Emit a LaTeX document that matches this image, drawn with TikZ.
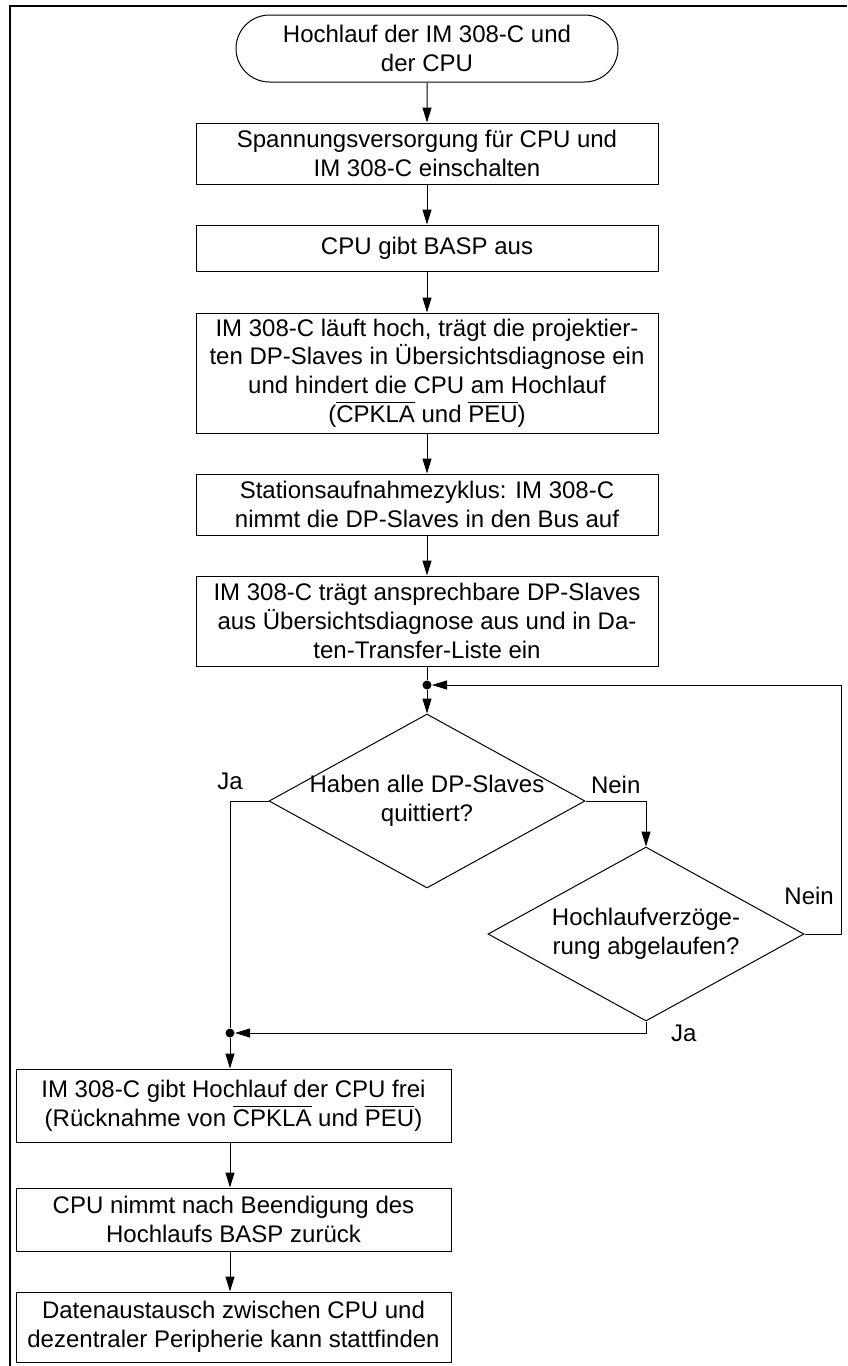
\documentclass[tikz,border=0pt]{standalone}
\usepackage{fontspec}
\setmainfont{Liberation Sans}
\usetikzlibrary{shapes,arrows.meta,positioning}

\newcommand{\lowact}[1]{$\overline{\mbox{#1}}$}

\tikzset{
  terminal/.style={draw, rounded rectangle, minimum width=195pt, minimum height=33.5pt, inner sep=2pt, align=center},
  block/.style={draw, rectangle, minimum width=231pt, inner sep=2pt, align=center},
  lowblock/.style={draw, rectangle, minimum width=217.5pt, inner sep=2pt, align=center},
  decision/.style={draw, diamond, aspect=1.8, minimum width=158pt, minimum height=87pt, inner sep=-3pt, align=center},
  junction/.style={circle, fill, inner sep=0pt, minimum size=4.5pt}
}

\begin{document}
\begin{tikzpicture}[x=1pt, y=1pt, node distance=50pt, line width=0.5pt,
    font=\fontsize{12}{14.3}\selectfont, >={Triangle[length=7.5pt,width=4.5pt]}]
    \useasboundingbox (0,0) rectangle (423.5,-683);
    \draw[line width=1pt] (5,-683) -- (5,-3) -- (423.5,-3);

    \node[terminal] (start) at (213.5,-24.25) {Hochlauf der IM 308-C und\\der CPU};
    \node[block, minimum height=30.5pt, below of=start, yshift=-2.5pt] (power) {Spannungsversorgung für CPU und\\IM 308-C einschalten};
    \node[block, minimum height=23pt, below of=power, yshift=2.75pt] (basp) {CPU gibt BASP aus};
    \node[block, minimum height=60pt, below of=basp, yshift=-12.5pt] (imup) {IM 308-C läuft hoch, trägt die projektier-\\ten DP-Slaves in Übersichtsdiagnose ein\\und hindert die CPU am Hochlauf\\(\lowact{CPKLA} und \lowact{PEU})};
    \node[block, minimum height=30.5pt, below of=imup, yshift=-15.75pt] (cycle) {Stationsaufnahmezyklus: IM 308-C\\nimmt die DP-Slaves in den Bus auf};
    \node[block, minimum height=45pt, below of=cycle, yshift=-8.25pt] (transfer) {IM 308-C trägt ansprechbare DP-Slaves\\aus Übersichtsdiagnose aus und in Da-\\ten-Transfer-Liste ein};
    \node[junction] (loop) at (213.5,-342.5) {};
    \node[decision, below of=transfer, yshift=-40pt] (ack) {Haben alle DP-Slaves\\quittiert?};
    \node[decision, right of=ack, xshift=59.5pt, yshift=-66.5pt] (delay) {Hochlaufverzöge-\\rung abgelaufen?};
    \coordinate (rim) at (420.5,-342.5);
    \node[junction] (merge) at (115,-516.5) {};
    \node[lowblock, minimum height=36.5pt] (release) at (116.75,-552.75) {IM 308-C gibt Hochlauf der CPU frei\\(Rücknahme von \lowact{CPKLA} und \lowact{PEU})};
    \node[lowblock, minimum height=31.5pt, below of=release, yshift=-7pt] (baspoff) {CPU nimmt nach Beendigung des\\Hochlaufs BASP zurück};
    \node[lowblock, minimum height=35pt, below of=baspoff, yshift=-3.75pt] (exchange) {Datenaustausch zwischen CPU und\\dezentraler Peripherie kann stattfinden};

    \draw[->] (start) -- (power);
    \draw[->] (power) -- (basp);
    \draw[->] (basp) -- (imup);
    \draw[->] (imup) -- (cycle);
    \draw[->] (cycle) -- (transfer);
    \draw (transfer) -- (loop);
    \draw[->] (loop) -- (ack);
    \draw[->] (ack.east) -- node[above] {Nein} (ack.east -| delay) -- (delay.north);
    \draw[->] (delay.east) -| node[pos=0.5, anchor=south east, yshift=11pt] {Nein} (rim) -- (loop);
    \draw (ack.west) -| node[pos=0.5, above, yshift=2pt] {Ja} (merge);
    \draw[->] (delay.south) |- node[pos=0.5, right, xshift=9pt] {Ja} (merge);
    \draw[->] (merge) -- (merge |- release.north);
    \draw[->] (release.south -| merge) -- (baspoff.north -| merge);
    \draw[->] (baspoff.south -| merge) -- (exchange.north -| merge);
\end{tikzpicture}
\end{document}
